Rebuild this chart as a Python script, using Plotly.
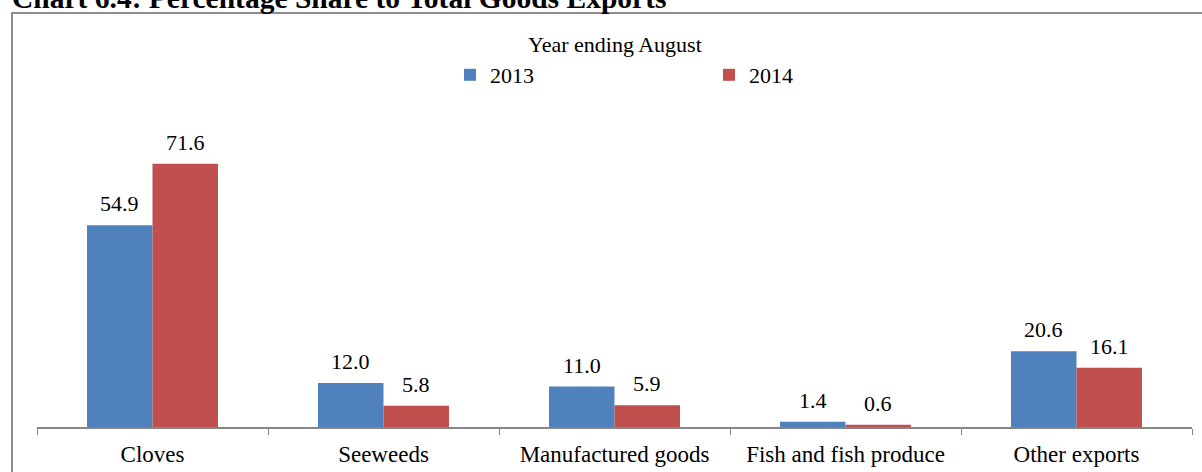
import plotly.graph_objects as go

# categories and export shares (%)
categories = ["Cloves", "Seeweeds", "Manufactured goods", "Fish and fish produce", "Other exports"]
years = ["2013", "2014"]
share_2013 = [54.9, 12.0, 11.0, 1.4, 20.6]
share_2014 = [71.6, 5.8, 5.9, 0.6, 16.1]
colors = ["#4F81BD", "#C0504D"]

FONT = "Liberation Serif, Times New Roman, serif"

fig = go.Figure()
for name, vals, col in zip(years, [share_2013, share_2014], colors):
    fig.add_trace(go.Bar(x=categories, y=vals, name=name,
                         marker=dict(color=col, line=dict(width=0))))

# plot area in pixels: x 37..1192, y 133..427
L, R, T, B = 37, 1202 - 1192, 133, 472 - 427
pw, ph = 1202 - L - R, 472 - T - B
bargap = 0.433
half = pw / len(categories) * (1 - bargap) / 4  # centre offset of each bar

# value labels above the bars
for k, vals in enumerate([share_2013, share_2014]):
    for cat, v in zip(categories, vals):
        fig.add_annotation(x=cat, y=v, text=f"{v:.1f}", showarrow=False,
                           xshift=(-half if k == 0 else half), yanchor="bottom", yshift=7,
                           font=dict(size=22, family=FONT, color="black"))

fig.update_layout(
    width=1202, height=472,
    margin=dict(l=L, r=R, t=T, b=B, autoexpand=False),
    paper_bgcolor="white", plot_bgcolor="white",
    font=dict(family=FONT, size=22, color="black"),
    barmode="group", bargap=bargap, bargroupgap=0,
    showlegend=True,
    legend=dict(
        orientation="h", x=(450 - L) / pw, xanchor="left",
        y=1 + (T - 75) / ph, yanchor="middle",
        font=dict(size=22), entrywidth=214, itemwidth=30,
        bgcolor="rgba(0,0,0,0)", traceorder="normal"
    ),
    xaxis=dict(
        showline=True, linecolor="#868686", linewidth=1.5,
        ticks="outside", ticklen=6, tickcolor="#868686", tickson="boundaries",
        tickfont=dict(size=23), ticklabelstandoff=6, showgrid=False, automargin=False
    ),
    yaxis=dict(range=[0, 80], visible=False, showgrid=False, automargin=False),
)

# legend heading
fig.add_annotation(text="Year ending August", xref="paper", yref="paper",
                   x=(615 - L) / pw, y=1 + (T - 44) / ph, yanchor="middle",
                   showarrow=False, font=dict(size=22, family=FONT, color="black"))

# chart border (runs off at right and bottom)
fig.add_shape(
    type="rect", xref="paper", yref="paper",
    x0=(12 - L) / pw, x1=(1215 - L) / pw,
    y0=-(485 - 427) / ph, y1=1 + (T - 13) / ph,
    line=dict(color="#8C8C8C", width=2), fillcolor="rgba(0,0,0,0)", layer="below"
)

# chart title, partly cut off at the top as in the source
fig.add_annotation(
    text="<b>Chart 6.4: Percentage Share to Total Goods Exports</b>",
    xref="paper", yref="paper", x=(10 - L) / pw, xanchor="left",
    y=1 + (T + 2) / ph, yanchor="middle", showarrow=False,
    font=dict(size=29.5, family=FONT, color="black")
)

fig.write_html("out.html", config={"displayModeBar": False},
               post_script="document.body.style.margin='0';")
